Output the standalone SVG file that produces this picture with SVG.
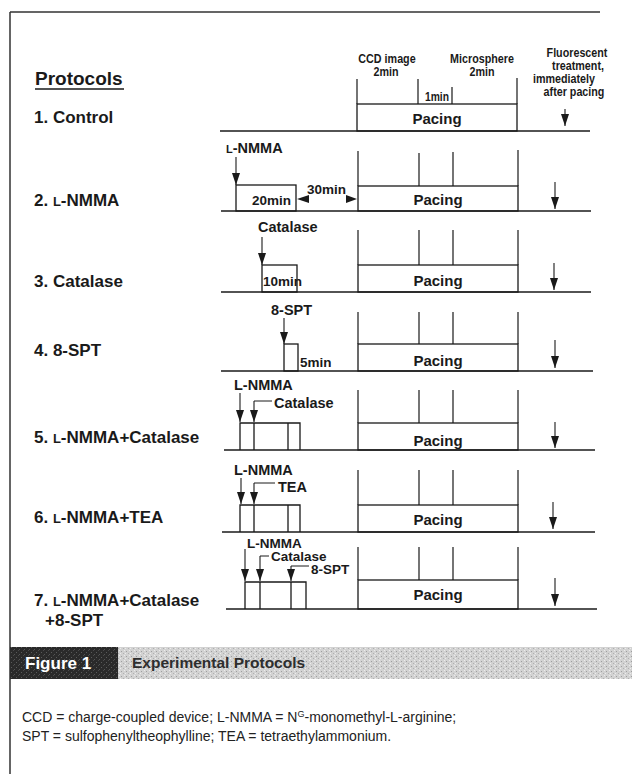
<svg xmlns="http://www.w3.org/2000/svg" width="632" height="774" viewBox="0 0 632 774">
<defs>
<style>
.rl{font-family:"Liberation Sans",Arial,sans-serif;font-weight:bold;font-size:17px;fill:#1a1a1a}
.hd{font-family:"Liberation Sans",Arial,sans-serif;font-weight:bold;font-size:12.5px;fill:#1a1a1a;text-anchor:middle}
.lb{font-family:"Liberation Sans",Arial,sans-serif;font-weight:bold;font-size:14.5px;fill:#1a1a1a}
.mn{font-family:"Liberation Sans",Arial,sans-serif;font-weight:bold;font-size:13.5px;fill:#1a1a1a}
.pc{font-family:"Liberation Sans",Arial,sans-serif;font-weight:bold;font-size:15px;fill:#1a1a1a;text-anchor:middle}
.cap{font-family:"Liberation Sans",Arial,sans-serif;font-size:14px;fill:#222}
.base{stroke:#1a1a1a;stroke-width:1.6;fill:none}
.box{stroke:#1a1a1a;stroke-width:1.3;fill:none}
.tk{stroke:#1a1a1a;stroke-width:1.2;fill:none}
.ar{stroke:#1a1a1a;stroke-width:1.1;fill:none;marker-end:url(#ah)}
.br{stroke:#1a1a1a;stroke-width:1;fill:none}
</style>
<marker id="ah" markerUnits="userSpaceOnUse" markerWidth="13" markerHeight="9" refX="12" refY="4" orient="auto">
<path d="M0,0 L12,4 L0,8 z" fill="#1a1a1a"/>
</marker>
<pattern id="speckle" width="5" height="5" patternUnits="userSpaceOnUse">
<rect width="5" height="5" fill="#d2d2d2"/>
<rect x="1" y="1" width="1" height="1" fill="#9e9e9e"/>
<rect x="3" y="3" width="1" height="1" fill="#b0b0b0"/>
<rect x="4" y="0" width="1" height="1" fill="#ececec"/>
<rect x="0" y="3" width="1" height="1" fill="#ededed"/>
</pattern>
<pattern id="darkspeckle" width="5" height="5" patternUnits="userSpaceOnUse">
<rect width="5" height="5" fill="#2a2a2a"/>
<rect x="1" y="2" width="1" height="1" fill="#5a5a5a"/>
<rect x="3" y="0" width="1" height="1" fill="#4a4a4a"/>
<rect x="4" y="4" width="1" height="1" fill="#555"/>
</pattern>
</defs>
<rect width="632" height="774" fill="#fff"/>
<g id="frame">
<path d="M10,12 H600 M10,12 V774" stroke="#333" stroke-width="1.5" fill="none"/>
</g>
<g id="header">
<text class="rl" x="35" y="85" style="font-size:19px">Protocols</text>
<line x1="35" y1="89" x2="124" y2="89" stroke="#1a1a1a" stroke-width="1.5"/>
<g transform="translate(387,63) scale(0.86,1)"><text class="hd">CCD image</text></g>
<g transform="translate(386,76) scale(0.86,1)"><text class="hd">2min</text></g>
<g transform="translate(437,101) scale(0.86,1)"><text class="hd" style="font-size:12px">1min</text></g>
<g transform="translate(482,63) scale(0.86,1)"><text class="hd">Microsphere</text></g>
<g transform="translate(482,76) scale(0.86,1)"><text class="hd">2min</text></g>
<g transform="translate(577,57) scale(0.86,1)"><text class="hd">Fluorescent</text></g>
<g transform="translate(578,70) scale(0.86,1)"><text class="hd">treatment,</text></g>
<g transform="translate(564,83) scale(0.86,1)"><text class="hd">immediately</text></g>
<g transform="translate(574,96) scale(0.86,1)"><text class="hd">after pacing</text></g>
</g>
<g id="row1">
<text class="rl" x="34" y="123">1. Control</text>
<line class="base" x1="220" y1="131" x2="590" y2="131"/>
<rect class="box" x="357" y="104" width="160" height="27"/>
<path class="tk" d="M357,79V104 M418,79V104 M452,87V104 M517,78V104"/>
<text class="pc" x="437" y="124">Pacing</text>
</g>
<g id="row2">
<text class="rl" x="34" y="206">2. <tspan style="font-size:13px">L</tspan>-NMMA</text>
<text class="lb" x="226" y="153"><tspan style="font-size:11px">L</tspan>-NMMA</text>
<line class="base" x1="221" y1="211" x2="591" y2="211"/>
<rect class="box" x="236" y="185" width="60" height="26"/>
<text class="mn" x="252" y="205">20min</text>
<text class="mn" x="307" y="194">30min</text>
<rect class="box" x="358" y="186" width="160" height="25"/>
<path class="tk" d="M358,151V186 M419,153V186 M453,152V186 M518,150V186"/>
<text class="pc" x="438" y="205">Pacing</text>
</g>
<g id="row3">
<text class="rl" x="34" y="287">3. Catalase</text>
<text class="lb" x="258" y="232">Catalase</text>
<line class="base" x1="221" y1="292" x2="591" y2="292"/>
<rect class="box" x="262" y="265" width="35" height="27"/>
<text class="mn" x="263" y="286">10min</text>
<rect class="box" x="358" y="265" width="160" height="27"/>
<path class="tk" d="M358,230V265 M419,230V265 M453,230V265 M518,230V265"/>
<text class="pc" x="438" y="286">Pacing</text>
</g>
<g id="row4">
<text class="rl" x="34" y="356">4. 8-SPT</text>
<text class="lb" x="271" y="315">8-SPT</text>
<line class="base" x1="221" y1="371" x2="593" y2="371"/>
<rect class="box" x="284" y="344" width="14" height="27"/>
<text class="mn" x="300" y="367">5min</text>
<rect class="box" x="358" y="344" width="160" height="27"/>
<path class="tk" d="M358,312V344 M419,312V344 M453,312V344 M518,312V344"/>
<text class="pc" x="438" y="366">Pacing</text>
</g>
<g id="row5">
<text class="rl" x="34" y="443">5. <tspan style="font-size:13px">L</tspan>-NMMA+Catalase</text>
<text class="lb" x="234" y="390">L-NMMA</text>
<text class="lb" x="274" y="408">Catalase</text>
<line class="base" x1="224" y1="450" x2="595" y2="450"/>
<path class="box" d="M240,450V423H300V450 M254,423V450 M288,423V450"/>
<rect class="box" x="358" y="423" width="160" height="27"/>
<path class="tk" d="M358,390V423 M419,390V423 M453,390V423 M518,390V423"/>
<text class="pc" x="438" y="446">Pacing</text>
</g>
<g id="row6">
<text class="rl" x="34" y="523">6. <tspan style="font-size:13px">L</tspan>-NMMA+TEA</text>
<text class="lb" x="234" y="475">L-NMMA</text>
<text class="lb" x="278" y="492">TEA</text>
<line class="base" x1="222" y1="532" x2="595" y2="532"/>
<path class="box" d="M240,532V505H300V532 M254,505V532 M288,505V532"/>
<rect class="box" x="358" y="505" width="160" height="27"/>
<path class="tk" d="M358,470V505 M419,470V505 M453,470V505 M518,470V505"/>
<text class="pc" x="438" y="525">Pacing</text>
</g>
<g id="row7">
<text class="rl" x="34" y="606">7. <tspan style="font-size:13px">L</tspan>-NMMA+Catalase</text>
<text class="rl" x="45" y="626">+8-SPT</text>
<text class="lb" x="247" y="548" style="font-size:13.5px">L-NMMA</text>
<text class="lb" x="271" y="561" style="font-size:13.5px">Catalase</text>
<text class="lb" x="311" y="574" style="font-size:13.5px">8-SPT</text>
<line class="base" x1="226" y1="609" x2="597" y2="609"/>
<path class="box" d="M245,609V582H306V609 M260,582V609 M291,582V609"/>
<rect class="box" x="358" y="580" width="160" height="29"/>
<path class="tk" d="M358,547V580 M419,547V580 M453,547V580 M518,547V580"/>
<text class="pc" x="438" y="600">Pacing</text>
</g>
<g id="connectors">
<line class="ar" x1="565" y1="109" x2="565" y2="126"/>
<line class="ar" x1="236" y1="157" x2="236" y2="185"/>
<path d="M297,199 L309,195 L309,203 z" fill="#1a1a1a"/>
<path d="M357,199 L346,195 L346,203 z" fill="#1a1a1a"/>
<line class="ar" x1="555" y1="182" x2="555" y2="209"/>
<line class="ar" x1="262" y1="237" x2="262" y2="265"/>
<line class="ar" x1="554" y1="263" x2="554" y2="290"/>
<line class="ar" x1="284" y1="318" x2="284" y2="344"/>
<line class="ar" x1="555" y1="340" x2="555" y2="368"/>
<line class="ar" x1="240" y1="393" x2="240" y2="422"/>
<path class="br" d="M272,401H254"/>
<line class="ar" x1="254" y1="401" x2="254" y2="422"/>
<line class="ar" x1="555" y1="422" x2="555" y2="448"/>
<line class="ar" x1="241" y1="478" x2="241" y2="504"/>
<path class="br" d="M275,483H254"/>
<line class="ar" x1="254" y1="483" x2="254" y2="504"/>
<line class="ar" x1="553" y1="502" x2="553" y2="529"/>
<line class="ar" x1="245" y1="549" x2="245" y2="581"/>
<path class="br" d="M269,556H260"/>
<line class="ar" x1="260" y1="556" x2="260" y2="581"/>
<path class="br" d="M309,566H291"/>
<line class="ar" x1="291" y1="566" x2="291" y2="581"/>
<line class="ar" x1="555" y1="578" x2="555" y2="606"/>
</g>
<g id="figure-title">
<rect x="105" y="647" width="527" height="32" fill="url(#speckle)"/>
<rect x="10" y="647" width="108" height="32" fill="url(#darkspeckle)"/>
<text x="25" y="669" style="font-family:'Liberation Sans',Arial,sans-serif;font-weight:bold;font-size:17px;fill:#fff">Figure 1</text>
<text x="132" y="668" style="font-family:'Liberation Sans',Arial,sans-serif;font-weight:bold;font-size:15.5px;fill:#2e2e2e">Experimental Protocols</text>
</g>
<g id="caption">
<text class="cap" x="22" y="722">CCD = charge-coupled device; L-NMMA = N<tspan dy="-5" font-size="9">G</tspan><tspan dy="5">-monomethyl-L-arginine;</tspan></text>
<text class="cap" x="22" y="741">SPT = sulfophenyltheophylline; TEA = tetraethylammonium.</text>
</g>
</svg>
